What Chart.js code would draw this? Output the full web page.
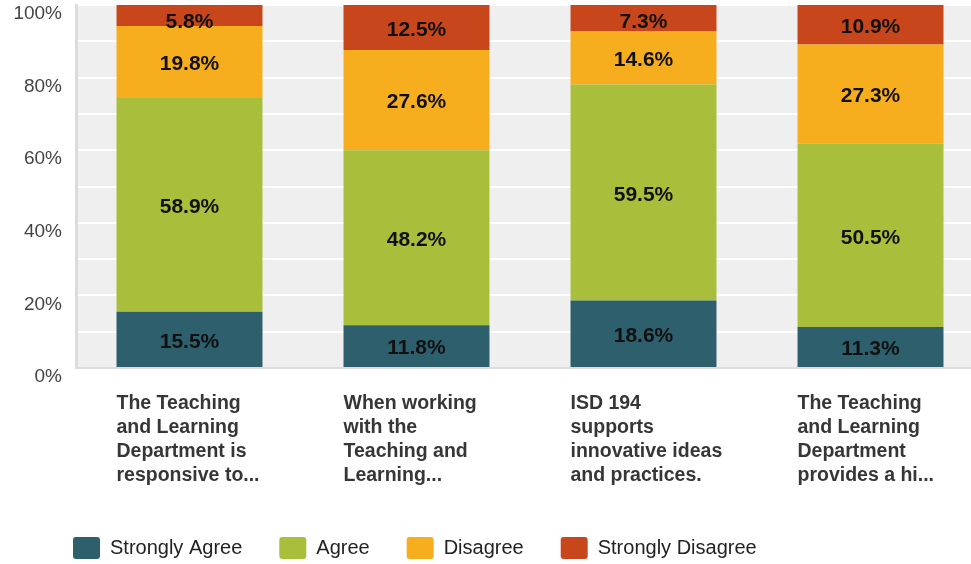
<!DOCTYPE html>
<html>
<head>
<meta charset="utf-8">
<title>Teaching and Learning survey</title>
<script src="https://cdn.jsdelivr.net/npm/chart.js@4/dist/chart.umd.min.js"></script>
<style>
  html, body { margin: 0; padding: 0; background: #fff; overflow: hidden; }
  #wrap { width: 971px; height: 564px; overflow: hidden; }
  canvas { display: block; }
</style>
</head>
<body>
<div id="wrap"><canvas id="surveyChart" width="984" height="564"></canvas></div>
<script>
const categories = [
  ['The Teaching', 'and Learning', 'Department is', 'responsive to...'],
  ['When working', 'with the', 'Teaching and', 'Learning...'],
  ['ISD 194', 'supports', 'innovative ideas', 'and practices.'],
  ['The Teaching', 'and Learning', 'Department', 'provides a hi...']
];
const seriesNames = ['Strongly Agree', 'Agree', 'Disagree', 'Strongly Disagree'];
const stronglyAgree = [15.5, 11.8, 18.6, 11.3];
const agree = [58.9, 48.2, 59.5, 50.5];
const disagree = [19.8, 27.6, 14.6, 27.3];
const stronglyDisagree = [5.8, 12.5, 7.3, 10.9];
const yTickLabels = [0, 20, 40, 60, 80, 100];

const colors = ['#2e5f6d', '#a9be3a', '#f6ae1f', '#c8461b'];
const fontFamily = "'Liberation Sans', Arial, Helvetica, sans-serif";

Chart.defaults.font.family = fontFamily;

// grey panel behind the bars
const plotBackground = {
  id: 'plotBackground',
  beforeDraw(chart) {
    const {ctx, chartArea: a} = chart;
    ctx.save();
    ctx.fillStyle = '#efefef';
    ctx.fillRect(a.left, a.top, a.right - a.left, a.bottom - a.top);
    ctx.restore();
  }
};

// percentage written in the middle of every segment
const segmentLabels = {
  id: 'segmentLabels',
  afterDatasetsDraw(chart) {
    const {ctx, chartArea} = chart;
    ctx.save();
    ctx.font = 'bold 21px ' + fontFamily;
    ctx.fillStyle = '#111';
    ctx.textAlign = 'center';
    ctx.textBaseline = 'middle';
    chart.data.datasets.forEach((ds, i) => {
      chart.getDatasetMeta(i).data.forEach((bar, j) => {
        let y = (bar.y + bar.base) / 2 + 2.5;
        y = Math.max(y, chartArea.top + 17);
        ctx.fillText(ds.data[j].toFixed(1) + '%', bar.x, y);
      });
    });
    ctx.restore();
  }
};

// nudge the legend row down and right under the plot
const legendPlacement = {
  id: 'legendPlacement',
  afterLayout(chart) {
    const lg = chart.legend;
    lg.top += 5;
    lg.bottom += 5;
    lg.left += 36;
  }
};

const seriesValues = [stronglyAgree, agree, disagree, stronglyDisagree];

new Chart(document.getElementById('surveyChart'), {
  type: 'bar',
  data: {
    labels: categories,
    datasets: seriesNames.map((name, i) => ({
      label: name,
      data: seriesValues[i],
      backgroundColor: colors[i],
      borderWidth: 0,
      categoryPercentage: 1,
      barPercentage: 0.643
    }))
  },
  options: {
    responsive: false,
    animation: false,
    layout: { padding: { top: 5, left: 0, right: 0, bottom: 0 } },
    plugins: {
      legend: {
        position: 'bottom',
        align: 'start',
        labels: {
          boxWidth: 27,
          boxHeight: 22,
          padding: 37,
          useBorderRadius: true,
          borderRadius: 3,
          color: '#222',
          font: { size: 20 }
        }
      },
      tooltip: { enabled: false }
    },
    scales: {
      x: {
        stacked: true,
        grid: { display: false, drawTicks: false },
        border: { color: '#dcdcdc', width: 2 },
        ticks: {
          autoSkip: false,
          maxRotation: 0,
          minRotation: 0,
          align: 'start',
          labelOffset: -73,
          padding: 24,
          color: '#363636',
          font: { size: 19.5, weight: 'bold', lineHeight: 1.22 }
        },
        afterFit(scale) {
          scale.height = 127;
          scale.paddingLeft = 0;
          scale.paddingRight = 0;
        }
      },
      y: {
        stacked: true,
        min: 0,
        max: 100,
        grid: { color: '#ffffff', lineWidth: 2, drawTicks: false },
        border: { color: '#dcdcdc', width: 3 },
        ticks: {
          stepSize: 10,
          padding: 14,
          labelOffset: 9,
          color: '#444',
          font: { size: 19 },
          callback: v => yTickLabels.includes(v) ? v + '%' : ''
        },
        afterFit(scale) {
          scale.width = 76;
          scale.paddingTop = 0;
          scale.paddingBottom = 0;
        }
      }
    }
  },
  plugins: [plotBackground, segmentLabels, legendPlacement]
});
</script>
</body>
</html>
